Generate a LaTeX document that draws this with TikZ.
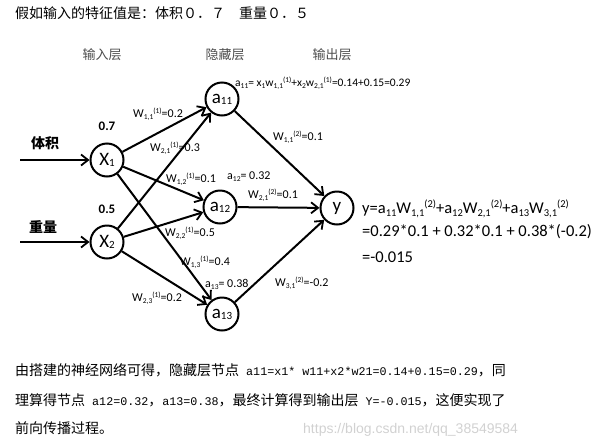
\documentclass[tikz,border=0pt]{standalone}
\usepackage{fontspec}
\setmainfont{Carlito}
\newfontfamily\cjk{Noto Sans CJK SC}
\newfontfamily\monofont{Liberation Mono}
\newfontfamily\wmfont{Liberation Sans}
\usetikzlibrary{arrows.meta}
\newcommand{\lat}[1]{{\monofont\fontsize{11.7}{14}\selectfont #1}}
\newcommand{\nsub}[1]{{\fontsize{11}{11}\selectfont\raisebox{-1pt}{#1}}}
\newcommand{\lsub}[1]{\raisebox{-2pt}{\fontsize{7.5}{8}\selectfont #1}}
\newcommand{\lsup}[1]{\raisebox{4pt}{\fontsize{7.5}{8}\selectfont #1}}
\newcommand{\esub}[1]{\raisebox{-3pt}{\fontsize{10.5}{11}\selectfont #1}}
\newcommand{\esup}[1]{\raisebox{6pt}{\fontsize{10.5}{11}\selectfont #1}}
\begin{document}
\begin{tikzpicture}[x=1pt,y=-1pt,
  neuron/.style={circle, draw, line width=2, minimum size=33, inner sep=0, font=\fontsize{19}{19}\selectfont},
  edge/.style={line width=2, -{Straight Barb[length=7pt,width=11pt,line width=1.8pt]}},
  wlab/.style={anchor=west, inner sep=0, font=\fontsize{12}{13}\selectfont},
  layer/.style={inner sep=0, text=black!70, font=\cjk\fontsize{13}{15}\selectfont},
  cjktext/.style={anchor=base west, inner sep=0, font=\cjk\fontsize{14}{16}\selectfont},
  val/.style={inner sep=0, font=\bfseries\fontsize{13}{15}\selectfont}
]
\useasboundingbox (0,0) rectangle (605,445);

% title
\node[cjktext] (title) at (15,18) {假如输入的特征值是：体积０．７　重量０．５};

% layer labels
\node[layer] (Lin) at (102,55) {输入层};
\node[layer] (Lhid) at (225,55) {隐藏层};
\node[layer] (Lout) at (332,55) {输出层};

% neurons
\node[neuron] (x1) at (107,160) {X\nsub{1}};
\node[neuron] (x2) at (107,242) {X\nsub{2}};
\node[neuron] (a11) at (222,99) {a\nsub{11}};
\node[neuron] (a12) at (220,207) {a\nsub{12}};
\node[neuron] (a13) at (222,314) {a\nsub{13}};
\node[neuron] (y) at (337,208) {y};

% inputs
\coordinate (in1) at (20,160);
\coordinate (in2) at (20,242);
\draw[edge] (in1) -- (x1);
\draw[edge] (in2) -- (x2);
\node[inner sep=0, font=\cjk\bfseries\fontsize{14}{16}\selectfont] (t1) at (45,143) {体积};
\node[inner sep=0, font=\cjk\bfseries\fontsize{14}{16}\selectfont] (t2) at (43,227) {重量};
\node[val] (v1) at (107,126) {0.7};
\node[val] (v2) at (107,209) {0.5};

% edges
\draw[edge] (x1) -- (a11);
\draw[edge] (x1) -- (a12);
\draw[edge] (x1) -- (a13);
\draw[edge] (x2) -- (a11);
\draw[edge] (x2) -- (a12);
\draw[edge] (x2) -- (a13);
\draw[edge] (a11) -- (y);
\draw[edge] (a12) -- (y);
\draw[edge] (a13) -- (y);

% weight labels
\node[wlab] (w111) at (133,114) {W\lsub{1,1}\lsup{(1)}=0.2};
\node[wlab] (w211) at (150,148) {W\lsub{2,1}\lsup{(1)}=0.3};
\node[wlab] (w121) at (166,179) {W\lsub{1,2}\lsup{(1)}=0.1};
\node[wlab] (w221) at (165,233) {W\lsub{2,2}\lsup{(1)}=0.5};
\node[wlab] (w131) at (180,262) {W\lsub{1,3}\lsup{(1)}=0.4};
\node[wlab] (w231) at (132,298) {W\lsub{2,3}\lsup{(1)}=0.2};
\node[wlab] (w112) at (273,137) {W\lsub{1,1}\lsup{(2)}=0.1};
\node[wlab] (w212) at (248,195) {W\lsub{2,1}\lsup{(2)}=0.1};
\node[wlab] (w312) at (275,283) {W\lsub{3,1}\lsup{(2)}=-0.2};
\node[wlab] (va12) at (227,177) {a\lsub{12}= 0.32};
\node[wlab] (va13) at (205,284) {a\lsub{13}= 0.38};
\node[wlab, font=\fontsize{11.5}{13}\selectfont] (va11) at (235,83) {a\lsub{11}= x\lsub{1}w\lsub{1,1}\lsup{(1)}+x\lsub{2}w\lsub{2,1}\lsup{(1)}=0.14+0.15=0.29};

% y equation
\node[anchor=west, inner sep=0, align=left, font=\fontsize{16.5}{26}\selectfont] (eq) at (362,231) {y=a\esub{11}W\esub{1,1}\esup{(2)}+a\esub{12}W\esub{2,1}\esup{(2)}+a\esub{13}W\esub{3,1}\esup{(2)}\\[-3pt]
=0.29*0.1 + 0.32*0.1 + 0.38*(-0.2)\\
=-0.015};

% bottom text
\node[cjktext] (b1) at (15,375) {由搭建的神经网络可得，隐藏层节点\lat{ a11=x1* w11+x2*w21=0.14+0.15=0.29}，同};
\node[cjktext] (b2) at (15,405) {理算得节点\lat{ a12=0.32}，\lat{a13=0.38}，最终计算得到输出层\lat{ Y=-0.015}，这便实现了};
\node[cjktext] (b3) at (15,433) {前向传播过程。};

% watermark
\node[anchor=base west, inner sep=0, text=black!18, font=\wmfont\fontsize{14}{16}\selectfont] (wm) at (303,433) {https://blog.csdn.net/qq\_38549584};
\end{tikzpicture}
\end{document}
